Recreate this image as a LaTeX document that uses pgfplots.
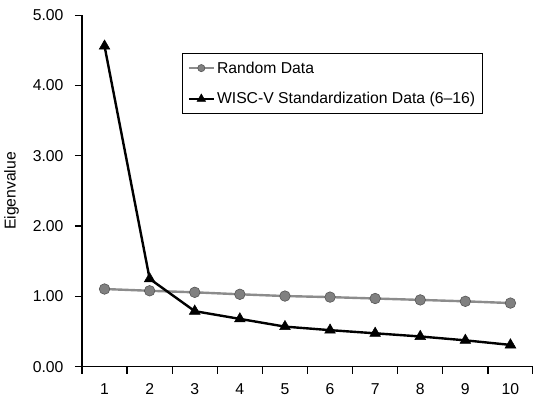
\documentclass[border=0pt]{standalone}
\usepackage{pgfplots}
\pgfplotsset{compat=1.18}
\usepackage{fontspec}
\setmainfont{Liberation Sans}
\definecolor{rgray}{HTML}{808080}
\definecolor{rgrayl}{HTML}{8C8C8C}
\definecolor{rgrayd}{HTML}{555555}
\begin{document}
\begin{tikzpicture}
\begin{axis}[
  scale only axis,
  width=451bp, height=351.5bp,
  xmin=0.5, xmax=10.5,
  ymin=0, ymax=5,
  axis x line=bottom, axis y line=left,
  axis line style={-, line width=1.2bp},
  tick align=outside,
  major tick length=7bp,
  tick style={black, line width=1.2bp},
  xtick={0.5,1.5,...,10.5},
  x tick label as interval,
  xticklabels={1,2,3,4,5,6,7,8,9,10},
  ytick={0,1,2,3,4,5},
  /pgf/number format/assume math mode=true,
  ticklabel style={font=\fontsize{15.8}{18}\selectfont},
  yticklabel style={/pgf/number format/fixed, /pgf/number format/fixed zerofill, /pgf/number format/precision=2, anchor=east, xshift=-8bp},
  xticklabel style={anchor=north, yshift=-8.5bp, inner ysep=1bp},
  every axis y label/.style={at={(axis description cs:-0.1563,0.5)}, rotate=90, anchor=center},
  ylabel={Eigenvalue},
  ylabel style={font=\fontsize{15.8}{18}\selectfont},
  legend style={at={(0.222,0.892)}, anchor=north west, draw=black, line width=1bp,
    font=\fontsize{15.8}{18}\selectfont, row sep=14bp, inner xsep=5bp, inner ysep=6bp, cells={anchor=west}},
  legend cell align=left,
  legend image code/.code={\draw[mark repeat=2,mark phase=2,#1] plot coordinates {(0bp,0bp) (12.5bp,0bp) (25bp,0bp)};},
]
\coordinate (o) at (rel axis cs:0,0);
\addplot[rgrayl, line width=2.4bp, mark=*, mark size=5.3bp, mark options={fill=rgray, draw=rgrayd, line width=0.6bp},
  legend image post style={mark size=3.6bp}]
coordinates {(1,1.105) (2,1.08) (3,1.058) (4,1.03) (5,1.005) (6,0.99) (7,0.97) (8,0.95) (9,0.93) (10,0.905)};
\addlegendentry{Random Data}
\addplot[black, line width=2.4bp, mark=triangle*, mark size=6.2bp, mark options={fill=black, line width=0.5bp},
  legend image post style={mark size=5bp}]
coordinates {(1,4.56) (2,1.25) (3,0.79) (4,0.68) (5,0.57) (6,0.52) (7,0.475) (8,0.43) (9,0.375) (10,0.31)};
\addlegendentry{WISC-V Standardization Data (6--16)}
\end{axis}
\pgfresetboundingbox
\path[use as bounding box] (o) ++(-82bp,-31.3bp) rectangle ++(533bp,398bp);
\end{tikzpicture}
\end{document}
